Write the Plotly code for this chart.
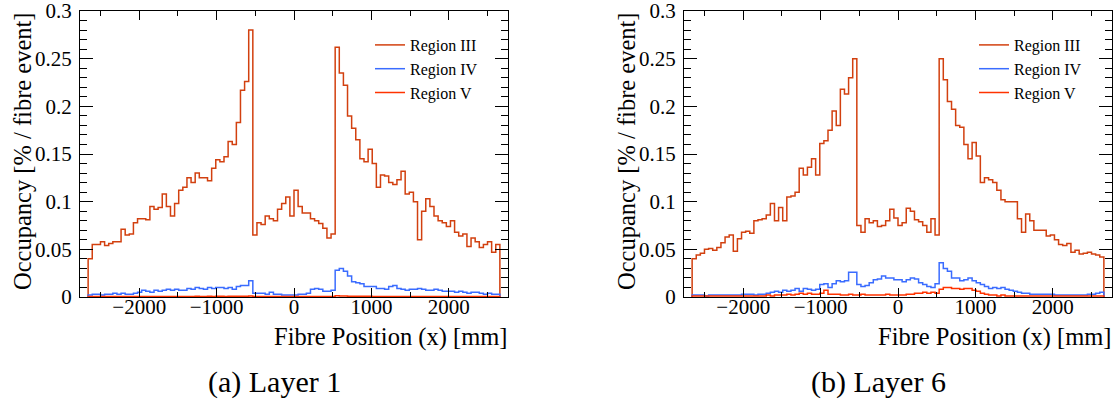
import numpy as np
import plotly.graph_objects as go

# ---------------- data (occupancy in % / fibre event) ----------------
# 100 bins spanning the fibre positions from -2660 mm to +2660 mm
bin_lo_mm = -2660.0
bin_hi_mm = 2660.0
n_bins = 100

series_names = ["Region III", "Region IV", "Region V"]
series_colors = ["#d2400f", "#3a6cff", "#ff3300"]

layer1_region3 = [
    0.040, 0.055, 0.055, 0.058, 0.054, 0.056, 0.058, 0.058, 0.071, 0.065,
    0.066, 0.078, 0.082, 0.082, 0.081, 0.095, 0.092, 0.094, 0.108, 0.095,
    0.085, 0.098, 0.112, 0.115, 0.125, 0.120, 0.130, 0.125, 0.125, 0.122,
    0.135, 0.144, 0.142, 0.147, 0.163, 0.160, 0.183, 0.217, 0.226, 0.280,
    0.065, 0.078, 0.076, 0.085, 0.082, 0.080, 0.092, 0.098, 0.105, 0.085,
    0.112, 0.095, 0.088, 0.088, 0.082, 0.080, 0.077, 0.072, 0.062, 0.066,
    0.262, 0.235, 0.222, 0.190, 0.177, 0.165, 0.145, 0.142, 0.155, 0.140,
    0.115, 0.128, 0.127, 0.120, 0.118, 0.123, 0.132, 0.108, 0.110, 0.100,
    0.060, 0.090, 0.103, 0.095, 0.085, 0.080, 0.078, 0.074, 0.080, 0.068,
    0.064, 0.066, 0.053, 0.062, 0.058, 0.052, 0.055, 0.058, 0.047, 0.055,
]
layer1_region4 = [
    0.002, 0.003, 0.003, 0.002, 0.003, 0.003, 0.004, 0.003, 0.004, 0.003,
    0.003, 0.004, 0.005, 0.007, 0.006, 0.005, 0.007, 0.006, 0.007, 0.008,
    0.007, 0.008, 0.007, 0.007, 0.009, 0.008, 0.010, 0.009, 0.008, 0.010,
    0.009, 0.010, 0.010, 0.009, 0.010, 0.008, 0.011, 0.012, 0.012, 0.017,
    0.004, 0.004, 0.004, 0.003, 0.005, 0.003, 0.003, 0.002, 0.002, 0.002,
    0.002, 0.003, 0.003, 0.004, 0.008, 0.009, 0.008, 0.006, 0.006, 0.007,
    0.028, 0.030, 0.027, 0.022, 0.016, 0.015, 0.014, 0.011, 0.011, 0.011,
    0.009, 0.009, 0.008, 0.011, 0.012, 0.009, 0.008, 0.007, 0.008, 0.008,
    0.009, 0.008, 0.007, 0.007, 0.008, 0.007, 0.006, 0.006, 0.006, 0.005,
    0.006, 0.005, 0.004, 0.005, 0.005, 0.004, 0.003, 0.004, 0.003, 0.003,
]
layer1_region5 = [
    0.0005, 0.0005, 0.0004, 0.0005, 0.0006, 0.0005, 0.0005, 0.0006, 0.0005, 0.0006,
    0.0005, 0.0006, 0.0005, 0.0005, 0.0006, 0.0005, 0.0006, 0.0005, 0.0006, 0.0006,
    0.0005, 0.0006, 0.0006, 0.0005, 0.0006, 0.0006, 0.0007, 0.0006, 0.0006, 0.0007,
    0.0006, 0.0007, 0.0007, 0.0006, 0.0007, 0.0007, 0.0008, 0.0008, 0.0009, 0.0010,
    0.0005, 0.0005, 0.0004, 0.0004, 0.0005, 0.0004, 0.0004, 0.0004, 0.0004, 0.0004,
    0.0004, 0.0004, 0.0005, 0.0004, 0.0005, 0.0005, 0.0005, 0.0005, 0.0005, 0.0006,
    0.0012, 0.0011, 0.0010, 0.0009, 0.0008, 0.0008, 0.0007, 0.0007, 0.0007, 0.0006,
    0.0006, 0.0006, 0.0006, 0.0006, 0.0006, 0.0005, 0.0006, 0.0005, 0.0005, 0.0005,
    0.0005, 0.0005, 0.0005, 0.0005, 0.0005, 0.0005, 0.0004, 0.0005, 0.0004, 0.0004,
    0.0004, 0.0004, 0.0004, 0.0004, 0.0004, 0.0004, 0.0004, 0.0004, 0.0004, 0.0004,
]

layer6_region3 = [
    0.040, 0.044, 0.046, 0.050, 0.051, 0.049, 0.052, 0.057, 0.063, 0.065,
    0.048, 0.061, 0.068, 0.069, 0.067, 0.080, 0.081, 0.082, 0.086, 0.098,
    0.080, 0.094, 0.080, 0.105, 0.106, 0.110, 0.135, 0.128, 0.136, 0.145,
    0.128, 0.161, 0.164, 0.175, 0.195, 0.180, 0.218, 0.213, 0.230, 0.250,
    0.075, 0.068, 0.082, 0.078, 0.080, 0.074, 0.075, 0.080, 0.092, 0.083,
    0.075, 0.078, 0.093, 0.090, 0.081, 0.079, 0.075, 0.068, 0.082, 0.065,
    0.250, 0.228, 0.205, 0.197, 0.180, 0.178, 0.160, 0.145, 0.162, 0.148,
    0.120, 0.125, 0.123, 0.120, 0.112, 0.102, 0.100, 0.100, 0.100, 0.082,
    0.068, 0.087, 0.080, 0.070, 0.070, 0.070, 0.064, 0.065, 0.060, 0.055,
    0.054, 0.056, 0.047, 0.049, 0.045, 0.046, 0.047, 0.045, 0.044, 0.042,
]
layer6_region4 = [
    0.002, 0.002, 0.002, 0.001, 0.002, 0.002, 0.002, 0.002, 0.002, 0.002,
    0.002, 0.002, 0.003, 0.003, 0.003, 0.002, 0.003, 0.003, 0.004, 0.005,
    0.006, 0.005, 0.007, 0.006, 0.007, 0.009, 0.006, 0.009, 0.008, 0.007,
    0.008, 0.013, 0.014, 0.010, 0.014, 0.017, 0.016, 0.017, 0.026, 0.026,
    0.013, 0.011, 0.012, 0.015, 0.018, 0.019, 0.022, 0.020, 0.020, 0.018,
    0.018, 0.016, 0.018, 0.020, 0.019, 0.015, 0.013, 0.011, 0.010, 0.014,
    0.036, 0.030, 0.027, 0.020, 0.020, 0.017, 0.018, 0.020, 0.017, 0.015,
    0.013, 0.011, 0.009, 0.010, 0.009, 0.010, 0.008, 0.007, 0.006, 0.005,
    0.004, 0.004, 0.003, 0.003, 0.003, 0.003, 0.003, 0.003, 0.002, 0.002,
    0.002, 0.002, 0.002, 0.002, 0.002, 0.002, 0.003, 0.003, 0.004, 0.005,
]
layer6_region5 = [
    0.001, 0.001, 0.001, 0.001, 0.001, 0.001, 0.001, 0.001, 0.001, 0.001,
    0.001, 0.001, 0.001, 0.001, 0.001, 0.001, 0.001, 0.001, 0.002, 0.001,
    0.002, 0.002, 0.002, 0.003, 0.002, 0.003, 0.004, 0.003, 0.004, 0.003,
    0.003, 0.004, 0.007, 0.003, 0.003, 0.003, 0.002, 0.002, 0.003, 0.002,
    0.002, 0.003, 0.002, 0.002, 0.002, 0.002, 0.002, 0.003, 0.002, 0.002,
    0.002, 0.002, 0.003, 0.003, 0.004, 0.004, 0.005, 0.004, 0.005, 0.004,
    0.008, 0.010, 0.010, 0.009, 0.009, 0.008, 0.009, 0.009, 0.007, 0.006,
    0.004, 0.003, 0.002, 0.002, 0.001, 0.002, 0.001, 0.001, 0.001, 0.001,
    0.001, 0.001, 0.001, 0.001, 0.001, 0.001, 0.001, 0.001, 0.001, 0.001,
    0.001, 0.001, 0.001, 0.001, 0.001, 0.001, 0.001, 0.001, 0.001, 0.001,
]

x_tick_vals = [-2000, -1000, 0, 1000, 2000]
x_tick_text = ["\u22122000", "\u22121000", "0", "1000", "2000"]
y_tick_vals = [0, 0.05, 0.1, 0.15, 0.2, 0.25, 0.3]
y_tick_text = ["0", "0.05", "0.1", "0.15", "0.2", "0.25", "0.3"]

x_title = "Fibre Position (x) [mm]"
y_title = "Occupancy [% / fibre event]"
captions = ["(a) Layer 1", "(b) Layer 6"]

# ---------------- figure ----------------
W, H = 1118, 400
FONT = "Liberation Serif, Times New Roman, serif"

edges = np.linspace(bin_lo_mm, bin_hi_mm, n_bins + 1)


def hist_xy(vals):
    v = list(vals)
    xs = [edges[0]] + list(edges) + [edges[-1]]
    ys = [0.0] + v + [v[-1], 0.0]
    return xs, ys


fig = go.Figure()
panels = [
    ("x", "y", "legend", [layer1_region3, layer1_region4, layer1_region5]),
    ("x2", "y2", "legend2", [layer6_region3, layer6_region4, layer6_region5]),
]
for xa, ya, lg, data in panels:
    for name, color, vals in zip(series_names, series_colors, data):
        xs, ys = hist_xy(vals)
        fig.add_trace(go.Scatter(
            x=xs, y=ys, mode="lines", line=dict(color=color, width=1.5, shape="hv"),
            name=name, xaxis=xa, yaxis=ya, legend=lg, legendgroup=lg + name,
            hoverinfo="skip",
        ))

# plot-area geometry in pixels
px_left = [80, 684]
px_right = [508, 1112]
px_top, px_bot = 11, 297


def fx(p):
    return p / W


def fy(p):
    return 1 - p / H


axis_common = dict(
    showline=True, linecolor="black", linewidth=1, mirror="ticks",
    ticks="inside", tickcolor="black", showgrid=False, zeroline=False,
    automargin=False, ticklabeloverflow="allow",
    tickfont=dict(family=FONT, size=21, color="black"),
)
for k in range(2):
    sfx = "" if k == 0 else str(k + 1)
    fig.layout["xaxis" + sfx] = dict(
        axis_common, domain=[fx(px_left[k]), fx(px_right[k])], range=[-2765, 2765],
        tickmode="array", tickvals=x_tick_vals, ticktext=x_tick_text, ticklen=9,
        minor=dict(ticks="inside", dtick=500, tick0=0, ticklen=5, tickcolor="black"),
        anchor="y" + sfx, ticklabelstandoff=-9,
    )
    fig.layout["yaxis" + sfx] = dict(
        axis_common, domain=[fy(px_bot), fy(px_top)], range=[0, 0.30002],
        tickmode="array", tickvals=y_tick_vals, ticktext=y_tick_text, ticklen=13,
        minor=dict(ticks="inside", dtick=0.01, tick0=0, ticklen=7, tickcolor="black"),
        anchor="x" + sfx, ticklabelstandoff=3,
    )

annotations = []
for k in range(2):
    annotations.append(dict(
        text=x_title, xref="paper", yref="paper", x=fx(px_right[k] + 1), y=fy(337),
        xanchor="right", yanchor="middle", showarrow=False,
        font=dict(family=FONT, size=24.5, color="black"),
    ))
    annotations.append(dict(
        text=y_title, xref="paper", yref="paper", x=fx(px_left[k] - 58), y=fy(px_top - 1),
        xanchor="center", yanchor="top", textangle=-90, showarrow=False,
        font=dict(family=FONT, size=24.5, color="black"),
    ))
    annotations.append(dict(
        text=captions[k], xref="paper", yref="paper",
        x=fx((px_left[k] + px_right[k]) / 2 - 20), y=fy(382),
        xanchor="center", yanchor="middle", showarrow=False,
        font=dict(family=FONT, size=30, color="black"),
    ))

legend_common = dict(
    font=dict(family=FONT, size=16, color="black"), bgcolor="rgba(0,0,0,0)",
    borderwidth=0, itemwidth=30, tracegroupgap=0, xanchor="left", yanchor="top",
)
fig.update_layout(
    width=W, height=H, autosize=False,
    margin=dict(l=0, r=0, t=0, b=0, autoexpand=False),
    paper_bgcolor="white", plot_bgcolor="white",
    showlegend=True,
    legend=dict(legend_common, x=fx(370), y=fy(28)),
    legend2=dict(legend_common, x=fx(974), y=fy(28)),
    annotations=annotations,
)

fig.write_html(
    "out.html",
    config={"displayModeBar": False, "staticPlot": True},
    post_script="document.body.style.margin='0px';document.body.style.overflow='hidden';",
)
